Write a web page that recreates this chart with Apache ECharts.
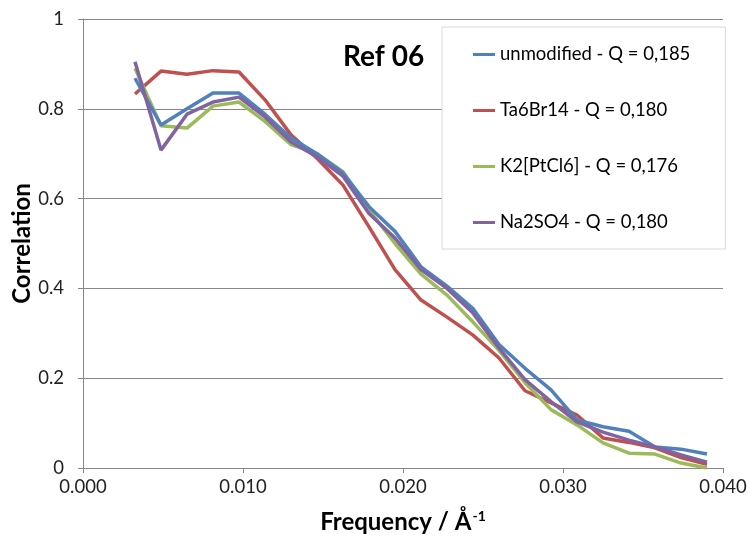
<!DOCTYPE html>
<html>
<head>
<meta charset="utf-8">
<script src="https://cdn.jsdelivr.net/npm/echarts@6/dist/echarts.min.js"></script>
<style>html,body{margin:0;padding:0;background:#fff}#c{width:750px;height:541px}</style>
</head>
<body>
<div id="c"></div>
<script>
// Frequency (1/Å): k * 0.001625, k = 2..24
const freqSteps = [2,3,4,5,6,7,8,9,10,11,12,13,14,15,16,17,18,19,20,21,22,23,24];
const freqStep = 0.001625;
const seriesNames = ['unmodified - Q = 0,185', 'Ta6Br14 - Q = 0,180', 'K2[PtCl6] - Q = 0,176', 'Na2SO4 - Q = 0,180'];
const unmodified = [0.868,0.764,0.800,0.835,0.835,0.788,0.735,0.700,0.657,0.582,0.527,0.448,0.405,0.355,0.275,0.222,0.174,0.107,0.092,0.082,0.047,0.042,0.031];
const ta6br14   = [0.833,0.884,0.877,0.885,0.882,0.820,0.742,0.690,0.630,0.537,0.442,0.374,0.336,0.296,0.245,0.172,0.145,0.118,0.067,0.057,0.045,0.023,0.008];
const k2ptcl6   = [0.890,0.762,0.757,0.806,0.815,0.772,0.720,0.700,0.660,0.575,0.500,0.432,0.385,0.325,0.262,0.190,0.130,0.096,0.056,0.033,0.031,0.011,0.000];
const na2so4    = [0.905,0.708,0.788,0.815,0.826,0.782,0.726,0.693,0.650,0.567,0.512,0.442,0.400,0.345,0.267,0.197,0.148,0.103,0.080,0.062,0.047,0.029,0.013];
const colors = ['#4F81BD', '#C0504D', '#9BBB59', '#8064A2'];
const allValues = [unmodified, ta6br14, k2ptcl6, na2so4];

const FONT = 'Lato, "Open Sans", sans-serif';
const LINE_ICON = 'path://M0,0 M0,5.5 L22,5.5 L22,8.5 L0,8.5 Z M22,14';
const chart = echarts.init(document.getElementById('c'));
const series = allValues.map((vals, i) => ({
  name: seriesNames[i],
  type: 'line',
  symbol: 'none',
  data: vals.map((v, j) => [freqSteps[j] * freqStep, v]),
  lineStyle: { color: colors[i], width: 3.5 },
  itemStyle: { color: colors[i] },
  z: 2 + (i === 0 ? 3 : i === 1 ? 0 : i)
}));

chart.setOption({
  animation: false,
  backgroundColor: '#fff',
  textStyle: { fontFamily: FONT },
  title: {
    text: 'Ref 06', left: 338, top: 38,
    textStyle: { fontFamily: FONT, fontSize: 28, fontWeight: 'bold', color: '#000' }
  },
  grid: { left: 83, right: 27, top: 19, bottom: 73, containLabel: false, outerBoundsMode: 'none' },
  legend: {
    orient: 'vertical', left: 442, top: 27,
    padding: [18, 35, 17, 31],
    itemGap: 37, itemWidth: 22, itemHeight: 14,
    icon: LINE_ICON,
    backgroundColor: '#fff', borderColor: '#d9d9d9', borderWidth: 1,
    textStyle: { fontFamily: FONT, fontSize: 18.5, color: '#000' },
    data: seriesNames
  },
  xAxis: {
    type: 'value', min: 0, max: 0.04, interval: 0.01,
    name: '{a|Frequency / Å}{b|-1}', nameLocation: 'middle', nameGap: 41, nameMoveOverlap: false,
    nameTextStyle: {
      rich: {
        a: { fontFamily: FONT, fontSize: 24, fontWeight: 'bold', color: '#000' },
        b: { fontFamily: FONT, fontSize: 14, fontWeight: 'bold', color: '#000', verticalAlign: 'top', padding: [0, 0, 12, 1] }
      }
    },
    axisLine: { lineStyle: { color: '#868686', width: 1 } },
    axisTick: { show: true, inside: false, length: 5, lineStyle: { color: '#868686' } },
    axisLabel: { formatter: v => v.toFixed(3), fontFamily: FONT, fontSize: 18.5, color: '#222', margin: 10 },
    splitLine: { show: false }
  },
  yAxis: {
    type: 'value', min: 0, max: 1, interval: 0.2,
    name: 'Correlation', nameLocation: 'middle', nameGap: 49, nameRotate: 90, nameMoveOverlap: false,
    nameTextStyle: { fontFamily: FONT, fontSize: 24, fontWeight: 'bold', color: '#000' },
    axisLine: { show: true, lineStyle: { color: '#868686', width: 1 } },
    axisTick: { show: true, inside: false, length: 5, lineStyle: { color: '#868686' } },
    axisLabel: { fontFamily: FONT, fontSize: 18.5, color: '#222', margin: 19 },
    splitLine: { show: true, lineStyle: { color: '#868686', width: 1 } }
  },
  series: series
});
</script>
</body>
</html>
